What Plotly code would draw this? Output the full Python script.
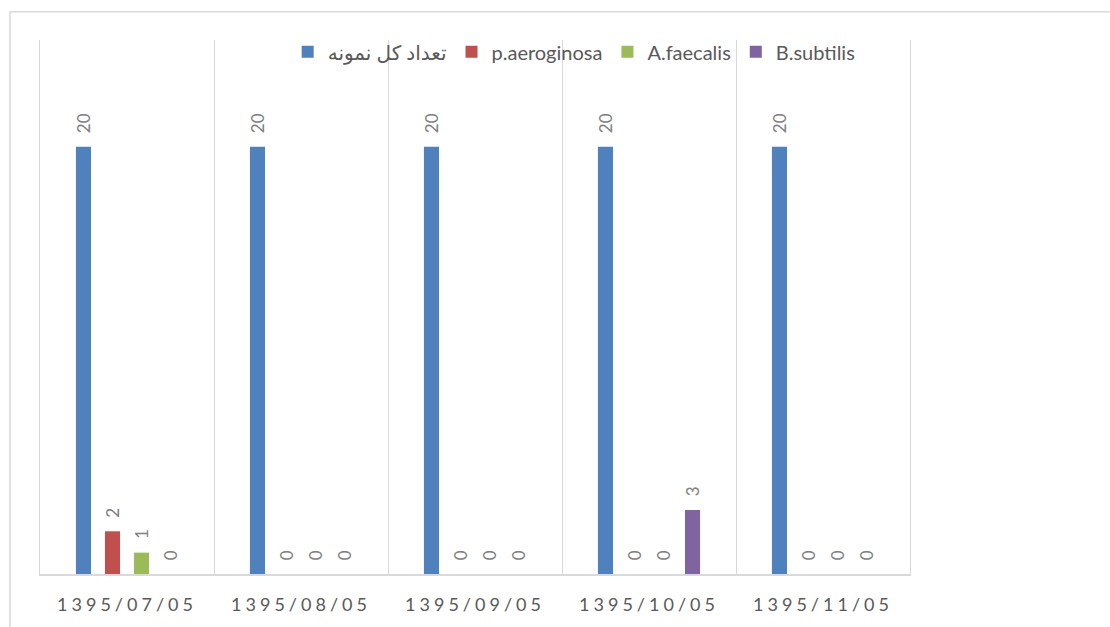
import plotly.graph_objects as go

categories = ["1395/07/05", "1395/08/05", "1395/09/05", "1395/10/05", "1395/11/05"]
series_names = ["تعداد کل نمونه", "p.aeroginosa", "A.faecalis", "B.subtilis"]
total_samples = [20, 20, 20, 20, 20]
p_aeroginosa = [2, 0, 0, 0, 0]
a_faecalis = [1, 0, 0, 0, 0]
b_subtilis = [0, 0, 0, 3, 0]
colors = ["#4F81BD", "#C0504D", "#9BBB59", "#8064A2"]

FONT = "Lato, DejaVu Sans, sans-serif"

fig = go.Figure()
for name, vals, col in zip(series_names, [total_samples, p_aeroginosa, a_faecalis, b_subtilis], colors):
    fig.add_trace(go.Bar(
        x=categories, y=vals, name=name,
        marker=dict(color=col, line=dict(width=0)),
        texttemplate="\u2002\u2009%{y}",
        textposition="outside", textangle=-90,
        constraintext="none", cliponaxis=False,
        textfont=dict(family=FONT, size=17, color="#7f7f7f"),
    ))

fig.update_layout(
    width=1110, height=627,
    barmode="group", bargap=0.333, bargroupgap=0.48,
    margin=dict(l=40, r=200, t=40, b=50),
    plot_bgcolor="white", paper_bgcolor="white",
    font=dict(family=FONT, color="#595959"),
    legend=dict(orientation="h", x=0.614, xanchor="center", y=0.978, yanchor="middle",
                font=dict(family=FONT, size=20, color="#595959"),
                bgcolor="rgba(0,0,0,0)", itemwidth=30),
    xaxis=dict(type="category", tickson="boundaries", showgrid=True, gridcolor="#d9d9d9",
               gridwidth=1, showline=True, linecolor="#d9d9d9", linewidth=1.5,
               ticks="", ticklabelstandoff=14,
               tickfont=dict(family=FONT, size=18, color="#595959"),
               range=[-0.5, 4.5]),
    yaxis=dict(range=[0, 25], showticklabels=False, ticks="", showgrid=False, zeroline=False,
               showline=True, mirror=True, linecolor="#d9d9d9", linewidth=1),
    shapes=[dict(type="rect", xref="paper", yref="paper",
                 x0=-0.0345, x1=1.6, y0=-0.5, y1=1.053,
                 line=dict(color="#d9d9d9", width=1.5), layer="below")],
)

post = """
document.body.style.margin='0';
document.querySelectorAll('.xtick text').forEach(function(t){t.setAttribute('letter-spacing','4px');});
"""
fig.write_html("out.html", post_script=post, config={"displayModeBar": False})
